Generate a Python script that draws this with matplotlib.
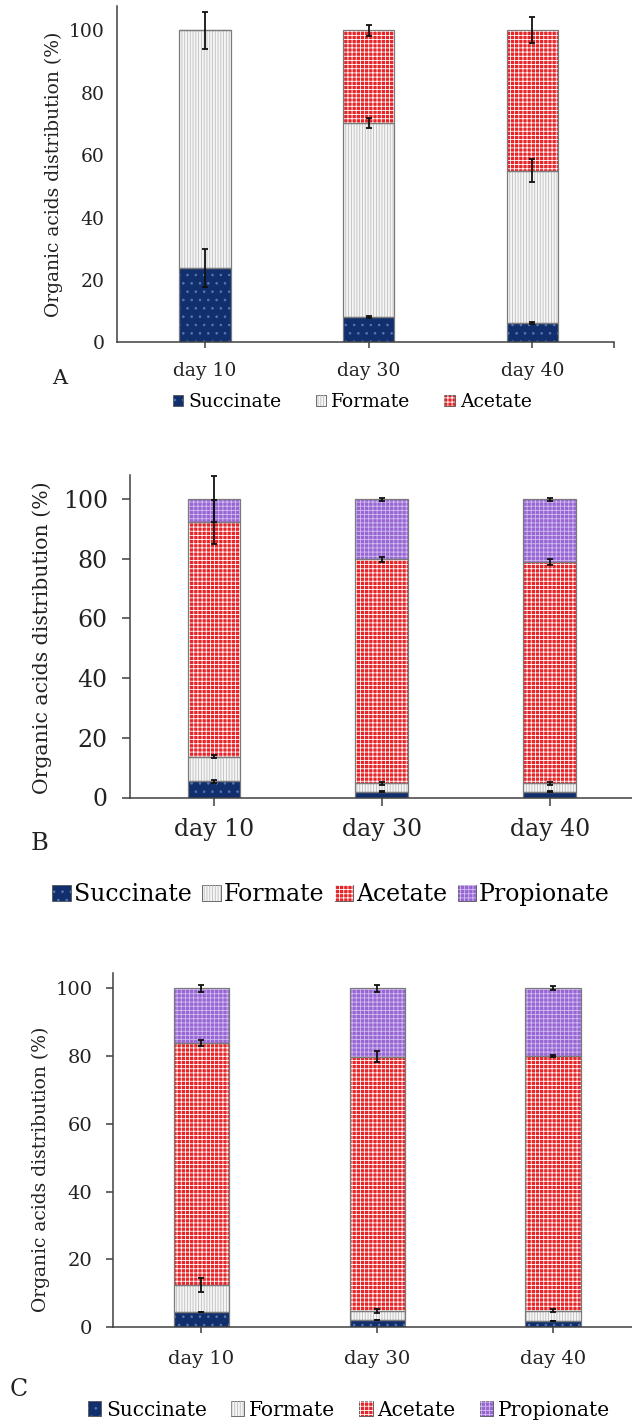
import matplotlib
matplotlib.use("Agg")
import matplotlib.pyplot as plt
import numpy as np
from matplotlib.patches import Patch
from matplotlib.legend_handler import HandlerTuple

plt.rcParams['font.family'] = 'DejaVu Serif'
plt.rcParams['hatch.linewidth'] = 0.6

W, H = 632, 1425
days = ['day 10', 'day 30', 'day 40']

# panel A: shares (%) and standard deviations at the top of each segment
a_succinate = [23.7, 8.0, 6.3]
a_formate = [76.3, 62.2, 48.7]
a_acetate = [0.0, 29.8, 45.0]
a_succinate_err = [6.1, 0.3, 0.3]
a_formate_err = [6.0, 1.6, 3.7]
a_acetate_err = [0.0, 1.7, 4.2]

# panel B
b_succinate = [5.5, 2.0, 2.0]
b_formate = [8.2, 2.8, 2.7]
b_acetate = [78.6, 75.1, 74.3]
b_propionate = [7.7, 20.1, 21.0]
b_succinate_err = [0.5, 0.2, 0.2]
b_formate_err = [0.5, 0.5, 0.5]
b_acetate_err = [7.3, 0.8, 1.0]
b_propionate_err = [7.8, 0.5, 0.5]

# panel C
c_succinate = [4.3, 2.1, 1.8]
c_formate = [8.1, 2.7, 3.0]
c_acetate = [71.5, 75.0, 75.2]
c_propionate = [16.1, 20.2, 20.0]
c_succinate_err = [0.0, 0.0, 0.0]
c_formate_err = [2.2, 0.6, 0.5]
c_acetate_err = [0.9, 1.6, 0.2]
c_propionate_err = [1.1, 1.1, 0.6]

# fill colour, hatch colour, hatch pattern
styles = {
    'Succinate': ('#112f6c', '#5a78b0', '..'),
    'Formate': ('#f6f6f6', '#bdbdbd', '||||||'),
    'Acetate': ('#e8262a', '#ffffff', '++++'),
    'Propionate': ('#9866d2', '#d2bcf2', '++++'),
}


def box(l, r, b, t):
    return [l / W, 1 - b / H, (r - l) / W, (b - t) / H]


def fxy(x, y):
    return x / W, 1 - y / H


def panel(rect, xlim, ylim, width, series, fs, ytick_len, xtick_len, ypad, xpad):
    ax = fig.add_axes(rect)
    x = np.arange(len(days))
    bottom = np.zeros(len(days))
    for name, vals, errs in series:
        vals = np.array(vals)
        fc, hc, hatch = styles[name]
        ax.bar(x, vals, width, bottom=bottom, color=fc, linewidth=0, zorder=2)
        ax.bar(x, vals, width, bottom=bottom, facecolor='none', edgecolor=hc,
               hatch=hatch, linewidth=0, zorder=3)
        ax.bar(x, vals, width, bottom=bottom, facecolor='none', edgecolor='#7a7a7a',
               linewidth=0.9, zorder=4)
        top = bottom + vals
        keep = vals > 0
        ax.errorbar(x[keep], top[keep], yerr=np.array(errs)[keep], fmt='none',
                    ecolor='#111111', elinewidth=1.3, capsize=2, capthick=1.3, zorder=5)
        bottom = top
    ax.set_xlim(*xlim)
    ax.set_ylim(*ylim)
    ax.set_yticks([0, 20, 40, 60, 80, 100])
    ax.set_xticks(list(x) + [xlim[1]])
    ax.set_xticklabels(days + [''])
    for s in ['top', 'right']:
        ax.spines[s].set_visible(False)
    for s in ['left', 'bottom']:
        ax.spines[s].set_color('#404040')
        ax.spines[s].set_linewidth(1.1)
    ax.spines['bottom'].set_zorder(6)
    ax.tick_params(axis='y', length=ytick_len, width=1.1, color='#404040',
                   labelsize=fs, pad=ypad, labelcolor='#222222')
    ax.tick_params(axis='x', length=xtick_len, width=1.1, color='#404040',
                   labelsize=fs, pad=xpad, labelcolor='#222222')
    ax.set_facecolor('none')
    return ax


def legend(names, center, fs, hl, hh, hp, cs):
    handles = []
    for n in names:
        fc, hc, hatch = styles[n]
        handles.append((Patch(facecolor=fc, edgecolor='#555555', linewidth=0.6),
                        Patch(facecolor='none', edgecolor=hc, hatch=hatch, linewidth=0)))
    fig.legend(handles, names, loc='center', bbox_to_anchor=fxy(*center),
               ncol=len(names), frameon=False, fontsize=fs,
               handler_map={tuple: HandlerTuple(ndivide=1, pad=0)},
               handlelength=hl, handleheight=hh, handletextpad=hp,
               columnspacing=cs, borderpad=0, borderaxespad=0)


fig = plt.figure(figsize=(W / 100, H / 100), dpi=100)

# A
panel(box(116.9, 614.3, 342.3, 6), (-0.537, 2.5), (0, 107.8), 0.315,
      [('Succinate', a_succinate, a_succinate_err),
       ('Formate', a_formate, a_formate_err),
       ('Acetate', a_acetate, a_acetate_err)],
      fs=13.5, ytick_len=0, xtick_len=4.5, ypad=9, xpad=10)
fig.text(*fxy(54, 174), 'Organic acids distribution (%)', rotation=90,
         ha='center', va='center', fontsize=13.5, color='#222222')
fig.text(*fxy(59.5, 379), 'A', ha='center', va='center', fontsize=15, color='#222222')
legend(['Succinate', 'Formate', 'Acetate'], (352.5, 402), 13.5, 0.55, 0.55, 0.3, 1.8)

# B
panel(box(130, 633.7, 797.5, 475), (-0.5, 2.5), (0, 108.1), 0.314,
      [('Succinate', b_succinate, b_succinate_err),
       ('Formate', b_formate, b_formate_err),
       ('Acetate', b_acetate, b_acetate_err),
       ('Propionate', b_propionate, b_propionate_err)],
      fs=17, ytick_len=6, xtick_len=6, ypad=10, xpad=9)
fig.text(*fxy(42, 638), 'Organic acids distribution (%)', rotation=90,
         ha='center', va='center', fontsize=14.7, color='#222222')
fig.text(*fxy(39.5, 844), 'B', ha='center', va='center', fontsize=17.5, color='#222222')
legend(['Succinate', 'Formate', 'Acetate', 'Propionate'], (331, 895), 17, 0.8, 0.65, 0.1, 0.45)

# C
panel(box(113.3, 641, 1327, 972.7), (-0.5, 2.5), (0, 104.6), 0.314,
      [('Succinate', c_succinate, c_succinate_err),
       ('Formate', c_formate, c_formate_err),
       ('Acetate', c_acetate, c_acetate_err),
       ('Propionate', c_propionate, c_propionate_err)],
      fs=14, ytick_len=5, xtick_len=4.5, ypad=10, xpad=12)
fig.text(*fxy(41, 1169), 'Organic acids distribution (%)', rotation=90,
         ha='center', va='center', fontsize=13.5, color='#222222')
fig.text(*fxy(19, 1389), 'C', ha='center', va='center', fontsize=17, color='#222222')
legend(['Succinate', 'Formate', 'Acetate', 'Propionate'], (349, 1410), 14.5, 0.65, 0.7, 0.25, 1.2)

fig.savefig('out.png', dpi=100)
